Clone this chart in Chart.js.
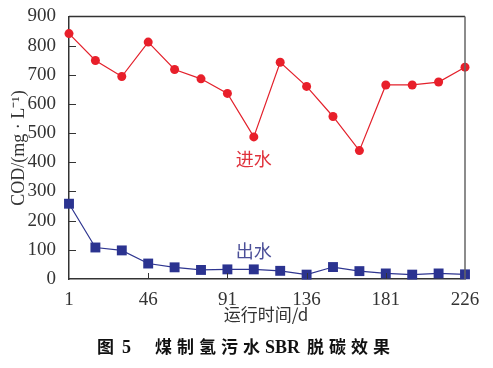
<!DOCTYPE html>
<html>
<head>
<meta charset="utf-8">
<script src="https://cdn.jsdelivr.net/npm/chart.js@4"></script>
<style>
  html, body { margin: 0; padding: 0; background: #fff; }
  #wrap { width: 493px; height: 368px; }
</style>
</head>
<body>
<div id="wrap"><canvas id="myChart" width="493" height="368"></canvas></div>
<script>
// 运行时间 (d)
var days = [1, 16, 31, 46, 61, 76, 91, 106, 121, 136, 151, 166, 181, 196, 211, 226];
// 进水 COD
var influent = [841, 749, 694, 812, 718, 686, 636, 487, 743, 660, 557, 440, 665, 665, 675, 726];
// 出水 COD
var effluent = [258, 108, 98, 53, 40, 31, 33, 33, 28, 15, 41, 27, 19, 15, 19, 16];
var xTicks = [1, 46, 91, 136, 181, 226];
var yTicks = [0, 100, 200, 300, 400, 500, 600, 700, 800, 900];

var serif = 'Liberation Serif';
var cjk = '"Noto Sans CJK SC", sans-serif';

Chart.defaults.font.family = serif;

function pts(vals) {
    return days.map(function(d, i) { return { x: d, y: vals[i] }; });
}

// frame, inner ticks and text labels
var decor = {
    id: 'decor',
    afterDraw: function(chart) {
        var ctx = chart.ctx;
        var a = chart.chartArea;
        var xs = chart.scales.x, ys = chart.scales.y;
        ctx.save();
        ctx.strokeStyle = '#333';
        ctx.lineWidth = 1.5;
        ctx.beginPath();
        ctx.moveTo(a.left, a.top);
        ctx.lineTo(a.right, a.top);
        ctx.stroke();
        ctx.strokeStyle = '#666';
        ctx.beginPath();
        ctx.moveTo(a.right, a.top);
        ctx.lineTo(a.right, a.bottom);
        ctx.stroke();

        // inner ticks
        ctx.strokeStyle = '#333';
        ctx.lineWidth = 1;
        ctx.beginPath();
        xTicks.slice(1, -1).forEach(function(v) {
            var px = Math.round(xs.getPixelForValue(v)) + 0.5;
            ctx.moveTo(px, a.bottom);
            ctx.lineTo(px, a.bottom - 6);
        });
        yTicks.slice(1, -1).forEach(function(v) {
            var py = Math.round(ys.getPixelForValue(v)) + 0.5;
            ctx.moveTo(a.left, py);
            ctx.lineTo(a.left + 7, py);
        });
        ctx.stroke();

        // series labels
        ctx.textAlign = 'center';
        ctx.textBaseline = 'middle';
        ctx.font = '18px ' + cjk;
        ctx.fillStyle = '#e0323c';
        ctx.fillText('进水', xs.getPixelForValue(106), ys.getPixelForValue(410));
        ctx.fillStyle = '#4b4f98';
        ctx.fillText('出水', xs.getPixelForValue(106), ys.getPixelForValue(95));

        // axis titles
        ctx.fillStyle = '#333';
        ctx.font = '17px ' + cjk;
        ctx.fillText('运行时间/d', 266, 315);

        ctx.save();
        ctx.translate(19, 148);
        ctx.rotate(-Math.PI / 2);
        ctx.font = '18px ' + serif;
        ctx.fillText('COD/(mg \u00b7 L\u207b\u00b9)', 0, 0);
        ctx.restore();

        // caption, drawn in pieces
        ctx.fillStyle = '#111';
        ctx.textAlign = 'left';
        ctx.font = 'bold 17px ' + cjk;
        ctx.fillText('图', 97, 347);
        ctx.letterSpacing = '5px';
        ctx.fillText('煤制氢污水', 155, 347);
        ctx.fillText('脱碳效果', 307, 347);
        ctx.letterSpacing = '0px';
        ctx.font = 'bold 18px ' + serif;
        ctx.fillText('5', 122, 348);
        ctx.fillText('SBR', 265, 348);
        ctx.restore();
    }
};

var ctx = document.getElementById('myChart').getContext('2d');
var myChart = new Chart(ctx, {
    type: 'line',
    data: {
        datasets: [{
            label: '进水',
            data: pts(influent),
            borderColor: '#e3202b',
            backgroundColor: '#e81f2a',
            borderWidth: 1.2,
            pointStyle: 'circle',
            pointRadius: 4.5,
            pointBorderWidth: 0,
            tension: 0,
            clip: false
        }, {
            label: '出水',
            data: pts(effluent),
            borderColor: '#2e3590',
            backgroundColor: '#2b3390',
            borderWidth: 1.2,
            pointStyle: 'rect',
            pointRadius: 7,
            pointBorderWidth: 0,
            tension: 0,
            clip: false
        }]
    },
    options: {
        responsive: false,
        animation: false,
        layout: { padding: { left: 0, top: 15, right: 28, bottom: 0 } },
        plugins: {
            legend: { display: false },
            tooltip: { enabled: false }
        },
        scales: {
            x: {
                type: 'linear',
                min: 1,
                max: 226,
                afterBuildTicks: function(scale) {
                    scale.ticks = xTicks.map(function(v) { return { value: v }; });
                },
                afterFit: function(scale) { scale.height = 89; },
                grid: { display: false },
                border: { display: true, color: '#333', width: 1.5 },
                ticks: {
                    autoSkip: false,
                    maxRotation: 0,
                    padding: 2,
                    color: '#333',
                    font: { family: serif, size: 19 }
                }
            },
            y: {
                min: 0,
                max: 900,
                afterBuildTicks: function(scale) {
                    scale.ticks = yTicks.map(function(v) { return { value: v }; });
                },
                afterFit: function(scale) { scale.width = 69; },
                grid: { display: false },
                border: { display: true, color: '#333', width: 1.5 },
                ticks: {
                    padding: 5,
                    color: '#333',
                    font: { family: serif, size: 19 }
                }
            }
        }
    },
    plugins: [decor]
});
</script>
</body>
</html>
